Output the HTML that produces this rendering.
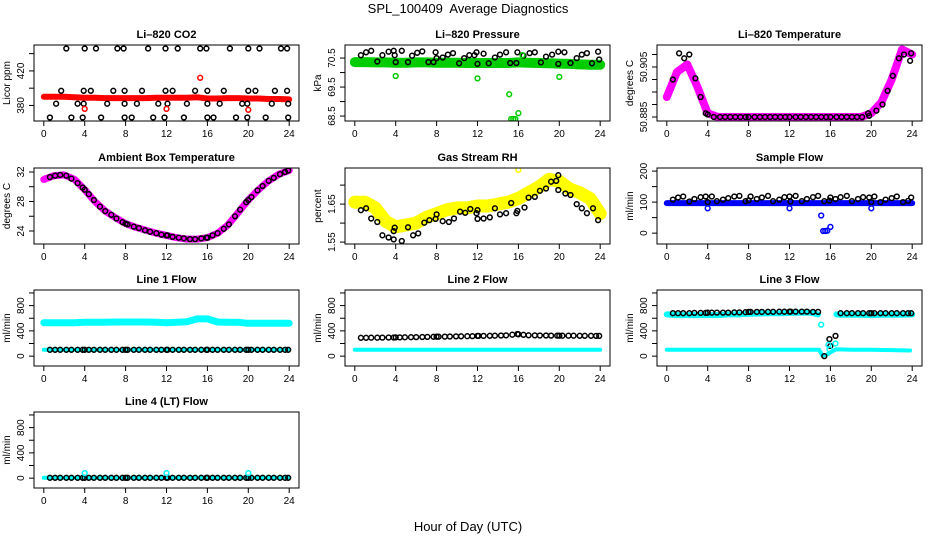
<!DOCTYPE html>
<html><head><meta charset="utf-8">
<style>
body{margin:0;background:#fff;}
svg{display:block;font-family:"Liberation Sans",Arial,sans-serif;}
</style></head>
<body>
<svg id="chart" width="936" height="540" viewBox="0 0 936 540">
<text x="468" y="13" text-anchor="middle" font-size="13">SPL_100409&#160; Average Diagnostics</text>
<text x="468" y="531" text-anchor="middle" font-size="13">Hour of Day (UTC)</text>
</svg>
<script>
// ---- data ----
const hours = [0,1,2,3,4,5,6,7,8,9,10,11,12,13,14,15,16,17,18,19,20,21,22,23,24];
const blackTimes = [0.6,1.1,1.6,2.2,2.7,3.3,3.8,4.0,4.4,4.9,5.5,6.0,6.6,7.1,7.7,8.0,8.2,8.8,9.3,9.9,10.4,11.0,11.5,12.0,12.1,12.6,13.2,13.7,14.3,14.8,15.4,15.9,16.0,16.5,17.0,17.6,18.1,18.7,19.2,19.8,20.0,20.3,20.9,21.4,22.0,22.5,23.1,23.6,23.9];

// CO2
const co2Band = [390,390,390,389.5,389,389,388.5,388.5,388.5,388.5,388.5,389,389,389,389,389.5,388,388,388.5,388.5,388,388,387.5,387.5,387];
const co2TopTimes = [2.2,4.0,5.1,7.2,7.8,10.2,11.9,13.1,15.3,15.9,18.2,20.0,21.1,23.2,23.8];
const co2BotTimes = [0.6,2.7,3.8,5.6,7.9,8.6,10.7,11.8,13.7,16.0,16.6,18.8,19.9,21.7,23.9];
const co2MidTimes = [1.7,3.9,4.6,6.8,7.9,9.6,11.9,12.6,14.8,16.0,17.6,20.0,20.7,22.6,23.8];
const co2LowTimes = [1.2,3.3,3.9,6.2,7.9,9.1,11.2,12.1,14.0,16.0,17.2,19.4,19.9,22.3,23.9];
const co2Levels = [446,366,397,382];
const co2RedT = [4,12,15.3,20];
const co2RedV = [376,376,412,375];

// Pressure
const presBand = [70.36,70.36,70.35,70.35,70.34,70.34,70.35,70.35,70.34,70.34,70.34,70.33,70.33,70.33,70.33,70.33,70.35,70.34,70.33,70.32,70.31,70.3,70.28,70.27,70.27];
const presBlackT = [0.6,1.1,1.6,2.2,2.7,3.3,3.8,3.9,4.0,4.6,5.2,5.6,6.1,6.6,7.2,7.7,7.9,8.0,8.6,9.1,9.6,10.2,10.7,11.2,11.7,11.9,12.0,12.6,13.1,13.7,14.2,14.8,15.2,15.8,15.9,16.5,17.1,17.6,18.2,18.7,19.3,19.9,19.9,20.5,21.1,21.7,22.2,22.7,23.2,23.8,23.9];
const presBlackV = [70.6,70.7,70.75,70.38,70.6,70.72,70.75,70.6,70.36,70.75,70.36,70.58,70.68,70.73,70.36,70.36,70.7,70.5,70.52,70.62,70.67,70.32,70.5,70.6,70.6,70.7,70.3,70.65,70.32,70.52,70.62,70.7,70.33,70.33,70.7,70.58,70.67,70.7,70.35,70.55,70.62,70.3,70.72,70.7,70.33,70.5,70.62,70.67,70.32,70.72,70.45];
const presGreenT = [4,12,15.1,15.3,15.5,15.7,16,16.4,20];
const presGreenV = [69.88,69.8,69.25,68.4,68.4,68.4,68.6,70.6,69.85];

// Li-820 temperature
const ltBand = [50.893,50.903,50.906,50.897,50.8865,50.885,50.885,50.885,50.885,50.885,50.885,50.885,50.885,50.885,50.885,50.885,50.885,50.885,50.885,50.885,50.8865,50.891,50.9,50.912,50.91];
const ltBlackT = [0.6,1.2,1.7,2.2,2.8,3.3,3.8,4.0,4.6,5.2,5.7,6.2,6.7,7.2,7.7,8.0,8.6,9.1,9.6,10.1,10.6,11.1,11.6,12.0,12.6,13.1,13.6,14.1,14.6,15.1,15.6,16.0,16.6,17.1,17.6,18.1,18.6,19.1,19.7,19.8,20.5,21.1,21.6,22.1,22.7,23.2,23.8,23.9];
const ltBlackV = [50.9,50.9105,50.9085,50.91,50.9005,50.893,50.8865,50.886,50.885,50.885,50.885,50.885,50.885,50.885,50.885,50.885,50.885,50.885,50.885,50.885,50.885,50.885,50.885,50.885,50.885,50.885,50.885,50.885,50.885,50.885,50.885,50.885,50.885,50.885,50.885,50.885,50.885,50.885,50.8865,50.8855,50.8875,50.89,50.8955,50.9015,50.9085,50.91,50.9075,50.9105];

// Ambient box temperature
const ambBand = [31,31.5,31.6,31,29.6,28,26.7,25.8,25,24.5,24.1,23.7,23.4,23.1,22.9,22.9,23.1,23.7,24.8,26.5,28.2,29.6,30.8,31.7,32.2];
const ambBlack = [31.3,31.5,31.6,31.5,31.1,30.5,29.9,29.6,29.0,28.2,27.3,26.7,26.2,25.7,25.2,25.0,24.9,24.6,24.4,24.1,23.9,23.7,23.5,23.4,23.4,23.2,23.1,23.0,22.9,22.9,23.0,23.1,23.1,23.4,23.7,24.3,24.9,26.0,26.9,27.9,28.2,28.6,29.5,30.1,30.8,31.2,31.7,32.0,32.2];

// Gas stream RH
const rhBand = [1.655,1.655,1.64,1.605,1.59,1.595,1.6,1.615,1.625,1.635,1.64,1.64,1.645,1.645,1.65,1.655,1.665,1.68,1.695,1.715,1.71,1.69,1.68,1.665,1.625];
const rhBlackT = [0.6,1.1,1.6,2.2,2.7,3.3,3.8,3.9,3.8,4.6,5.2,5.7,6.2,6.8,7.3,7.9,8.0,8.6,9.2,9.7,10.3,10.8,11.3,11.9,12.0,12.0,12.6,13.2,13.7,14.2,14.8,15.3,15.8,15.9,16.6,17.0,17.6,18.1,18.7,19.2,19.7,19.9,19.9,20.6,21.1,21.7,22.2,22.7,23.3,23.8];
const rhBlackV = [1.634,1.639,1.612,1.603,1.568,1.562,1.557,1.588,1.579,1.553,1.589,1.568,1.573,1.601,1.608,1.611,1.623,1.605,1.603,1.612,1.63,1.627,1.637,1.626,1.634,1.611,1.612,1.615,1.639,1.623,1.626,1.653,1.626,1.632,1.641,1.667,1.669,1.685,1.691,1.709,1.711,1.726,1.687,1.678,1.674,1.65,1.639,1.626,1.639,1.608];
const rhYellowT = [16.0];
const rhYellowV = [1.74];

// Sample flow
const sfBand = [97,97,97,97,97,97,97,97,97,97,97,97,97,97,97,97,97,97,97,97,97,97,97,97,97];
const sfBlack = [108,115,118,102,110,116,118,100,118,103,108,113,118,120,103,106,118,110,115,120,103,108,116,118,102,120,103,110,116,120,103,105,115,110,116,120,103,110,116,115,100,118,100,108,113,118,100,104,115];
const sfBlueT = [4,12,15.1,15.3,15.5,15.7,16.0,20];
const sfBlueV = [80,80,57,7,7,8,20,80];

// Line 1 flow
const l1Upper = [530,530,530,530,535,535,535,540,540,540,540,535,530,535,545,590,590,540,535,535,520,520,520,520,520];
const l1Lower = [100,100,100,100,100,100,100,100,100,100,100,100,100,100,100,100,100,100,100,100,100,100,100,100,100];
const l1Black = [100,100,100,100,100,100,100,100,100,100,100,100,100,100,100,100,100,100,100,100,100,100,100,100,100,100,100,100,100,100,100,100,100,100,100,100,100,100,100,100,100,100,100,100,100,100,100,100,100];

// Line 2 flow
const l2Lower = [100,100,100,100,100,100,100,100,100,100,100,100,100,100,100,100,100,100,100,100,100,100,100,100,100];
const l2Black = [290,290,292,292,293,295,295,296,297,298,300,302,303,305,306,307,308,310,311,312,314,316,318,320,320,321,322,324,326,328,340,350,345,338,330,328,327,326,325,325,324,324,323,323,322,322,322,321,320];

// Line 3 flow
const l3UpperT = [0,1,2,3,4,5,6,7,8,9,10,11,12,13,14,14.8];
const l3UpperV = [660,650,650,650,650,650,660,660,670,675,680,680,685,690,690,660];
const l3Upper2T = [16.6,17,18,19,20,21,22,23,24];
const l3Upper2V = [660,655,655,655,650,655,655,655,660];
const l3LowerT = [0,2,4,6,8,10,12,14,14.9,15.2,15.6,16.0,16.6,18,20,22,23.8];
const l3LowerV = [100,100,100,100,100,100,100,100,100,10,20,60,110,100,100,95,90];
const l3Black = [680,680,680,680,685,685,685,688,688,690,690,690,692,692,695,700,700,700,700,702,702,703,703,705,705,705,705,705,700,700,0,270,160,320,680,680,680,680,680,680,680,680,680,680,680,680,680,680,680];
const l3CyanT = [15.1,15.8,15.9,16.5];
const l3CyanV = [500,180,110,200];

// Line 4 flow
const l4Lower = [5,5,5,5,5,5,5,5,5,5,5,5,5,5,5,5,5,5,5,5,5,5,5,5,5];
const l4Black = [5,5,5,5,5,5,5,5,5,5,5,5,5,5,5,5,5,5,5,5,5,5,5,5,5,5,5,5,5,5,5,5,5,5,5,5,5,5,5,5,5,5,5,5,5,5,5,5,5];
const l4CyanT = [4,12,20];
const l4CyanV = [80,80,80];

const hourTicks = [0,4,8,12,16,20,24];

// ---- drawing ----
const NS = 'http://www.w3.org/2000/svg';
const svg = document.getElementById('chart');
const colLeft = [34,345,657];
const rowTop = [45,168,290,412];
const PW = 265, PH = 76;

function mk(tag, attrs, parent){
  const e = document.createElementNS(NS, tag);
  for (const k in attrs) e.setAttribute(k, attrs[k]);
  (parent||svg).appendChild(e);
  return e;
}

function panel(cfg){
  const L = colLeft[cfg.col], T = rowTop[cfg.row];
  const g = mk('g', {});
  
  
  const xs = h => L + (h + 0.96) / 25.92 * PW;
  const ys = v => T + PH - (v - cfg.ymin) / (cfg.ymax - cfg.ymin) * PH;
  const clip = 'clip-' + cfg.name;
  const cp = mk('clipPath', {id: clip}, g);
  mk('rect', {x: L, y: T, width: PW, height: PH}, cp);
  const data = mk('g', {'clip-path': 'url(#' + clip + ')'}, g);
  
  
  (cfg.bands||[]).forEach(b => {
    let pts = [];
    b.t.forEach((t, i) => { pts.push(xs(t).toFixed(1) + ',' + ys(b.v[i]).toFixed(1)); });
    const pl = mk('polyline', {points: pts.join(' '), fill: 'none', stroke: b.color, 'stroke-width': b.w, 'stroke-linejoin': 'round', 'stroke-linecap': 'round'}, data);
    
    
  });
  (cfg.points||[]).forEach(p => {
    p.t.forEach((t, i) => {
      const v = Array.isArray(p.v) ? p.v[i] : p.v;
      const c = mk('circle', {cx: xs(t).toFixed(1), cy: ys(v).toFixed(1), r: 2.4, fill: 'none', stroke: p.color, 'stroke-width': 1.5}, data);
      
      
    });
  });
  const box = mk('rect', {x: L, y: T, width: PW, height: PH, fill: 'none', stroke: '#000', 'stroke-width': 1}, g);
  
  
  const title = mk('text', {x: L + PW/2, y: T - 7, 'text-anchor': 'middle', 'font-size': 11, 'font-weight': 'bold'}, g);
  title.textContent = cfg.title;
  
  
  hourTicks.forEach(h => {
    const x = xs(h);
    mk('line', {x1: x, x2: x, y1: T + PH, y2: T + PH + 5, stroke: '#000'}, g);
    const tx = mk('text', {x: x, y: T + PH + 16, 'text-anchor': 'middle', 'font-size': 10}, g);
    tx.textContent = h;
    
    
  });
  cfg.yticks.forEach(v => {
    const y = ys(v);
    mk('line', {x1: L - 5, x2: L, y1: y, y2: y, stroke: '#000'}, g);
  });
  cfg.ylabels.forEach(v => {
    const y = ys(v);
    const tx = mk('text', {x: L - 10, y: y, 'text-anchor': 'middle', 'font-size': 10, transform: 'rotate(-90 ' + (L - 10) + ' ' + y + ')'}, g);
    tx.textContent = v;
    
    
  });
  const cy = T + PH/2;
  const yt = mk('text', {x: L - 24, y: cy, 'text-anchor': 'middle', 'font-size': 10, transform: 'rotate(-90 ' + (L - 24) + ' ' + cy + ')'}, g);
  yt.textContent = cfg.ylab;
  
  
}

const flowTicks = [0,200,400,600,800,1000];
const flowLabels = [0,400,800];

panel({name:'co2-panel', col:0,row:0,title:'Li\u2013820 CO2', ylab:'Licor ppm', ymin:362, ymax:450,
  yticks:[380,400,420,440], ylabels:[380,420],
  bands:[{name:'co2-band', t:hours, v:co2Band, color:'#ff0000', w:6}],
  points:[{name:'co2-point',t:co2TopTimes,v:co2Levels[0],color:'#000'},{name:'co2-point',t:co2BotTimes,v:co2Levels[1],color:'#000'},
          {name:'co2-point',t:co2MidTimes,v:co2Levels[2],color:'#000'},{name:'co2-point',t:co2LowTimes,v:co2Levels[3],color:'#000'},
          {name:'co2-outlier',t:co2RedT,v:co2RedV,color:'#ff0000'}]});

panel({name:'pressure-panel', col:1,row:0,title:'Li\u2013820 Pressure', ylab:'kPa', ymin:68.33, ymax:70.95,
  yticks:[68.5,69,69.5,70,70.5], ylabels:[68.5,69.5,70.5],
  bands:[{name:'pressure-band', t:hours, v:presBand, color:'#00cc00', w:10}],
  points:[{name:'pressure-point',t:presBlackT,v:presBlackV,color:'#000'},{name:'pressure-outlier',t:presGreenT,v:presGreenV,color:'#00cc00'}]});

panel({name:'li820-temp-panel', col:2,row:0,title:'Li\u2013820 Temperature', ylab:'degrees C', ymin:50.8834, ymax:50.9138,
  yticks:[50.885,50.89,50.895,50.9,50.905,50.91], ylabels:[50.885,50.905],
  bands:[{name:'li820-temp-band', t:hours, v:ltBand, color:'#ff00ff', w:8}],
  points:[{name:'li820-temp-point',t:ltBlackT,v:ltBlackV,color:'#000'}]});

panel({name:'ambient-temp-panel', col:0,row:1,title:'Ambient Box Temperature', ylab:'degrees C', ymin:22.24, ymax:32.54,
  yticks:[24,26,28,30,32], ylabels:[24,28,32],
  bands:[{name:'ambient-temp-band', t:hours, v:ambBand, color:'#ff00ff', w:7}],
  points:[{name:'ambient-temp-point',t:blackTimes,v:ambBlack,color:'#000'}]});

panel({name:'rh-panel', col:1,row:1,title:'Gas Stream RH', ylab:'percent', ymin:1.545, ymax:1.745,
  yticks:[1.55,1.6,1.65,1.7], ylabels:[1.55,1.65],
  bands:[{name:'rh-band', t:hours, v:rhBand, color:'#ffff00', w:13}],
  points:[{name:'rh-point',t:rhBlackT,v:rhBlackV,color:'#000'},{name:'rh-outlier',t:rhYellowT,v:rhYellowV,color:'#ffff00'}]});

panel({name:'sample-flow-panel', col:2,row:1,title:'Sample Flow', ylab:'ml/min', ymin:-35, ymax:210,
  yticks:[0,50,100,150,200], ylabels:[0,100,200],
  bands:[{name:'sample-flow-band', t:hours, v:sfBand, color:'#0000ff', w:6}],
  points:[{name:'sample-flow-point',t:blackTimes,v:sfBlack,color:'#000'},{name:'sample-flow-outlier',t:sfBlueT,v:sfBlueV,color:'#0000ff'}]});

panel({name:'line1-flow-panel', col:0,row:2,title:'Line 1 Flow', ylab:'ml/min', ymin:-156, ymax:1047,
  yticks:flowTicks, ylabels:flowLabels,
  bands:[{name:'line1-upper-band', t:hours, v:l1Upper, color:'#00ffff', w:7},{name:'line1-lower-band', t:hours, v:l1Lower, color:'#00ffff', w:4}],
  points:[{name:'line1-point',t:blackTimes,v:l1Black,color:'#000'}]});

panel({name:'line2-flow-panel', col:1,row:2,title:'Line 2 Flow', ylab:'ml/min', ymin:-156, ymax:1047,
  yticks:flowTicks, ylabels:flowLabels,
  bands:[{name:'line2-lower-band', t:hours, v:l2Lower, color:'#00ffff', w:4}],
  points:[{name:'line2-point',t:blackTimes,v:l2Black,color:'#000'}]});

panel({name:'line3-flow-panel', col:2,row:2,title:'Line 3 Flow', ylab:'ml/min', ymin:-156, ymax:1047,
  yticks:flowTicks, ylabels:flowLabels,
  bands:[{name:'line3-upper-band', t:l3UpperT, v:l3UpperV, color:'#00ffff', w:6},{name:'line3-upper-band', t:l3Upper2T, v:l3Upper2V, color:'#00ffff', w:6},
         {name:'line3-lower-band', t:l3LowerT, v:l3LowerV, color:'#00ffff', w:4}],
  points:[{name:'line3-point',t:blackTimes,v:l3Black,color:'#000'},{name:'line3-cyan-point',t:l3CyanT,v:l3CyanV,color:'#00ffff'}]});

panel({name:'line4-flow-panel', col:0,row:3,title:'Line 4 (LT) Flow', ylab:'ml/min', ymin:-156, ymax:1047,
  yticks:flowTicks, ylabels:flowLabels,
  bands:[{name:'line4-band', t:hours, v:l4Lower, color:'#00ffff', w:4}],
  points:[{name:'line4-point',t:blackTimes,v:l4Black,color:'#000'},{name:'line4-cyan-point',t:l4CyanT,v:l4CyanV,color:'#00ffff'}]});
</script>
</body></html>
